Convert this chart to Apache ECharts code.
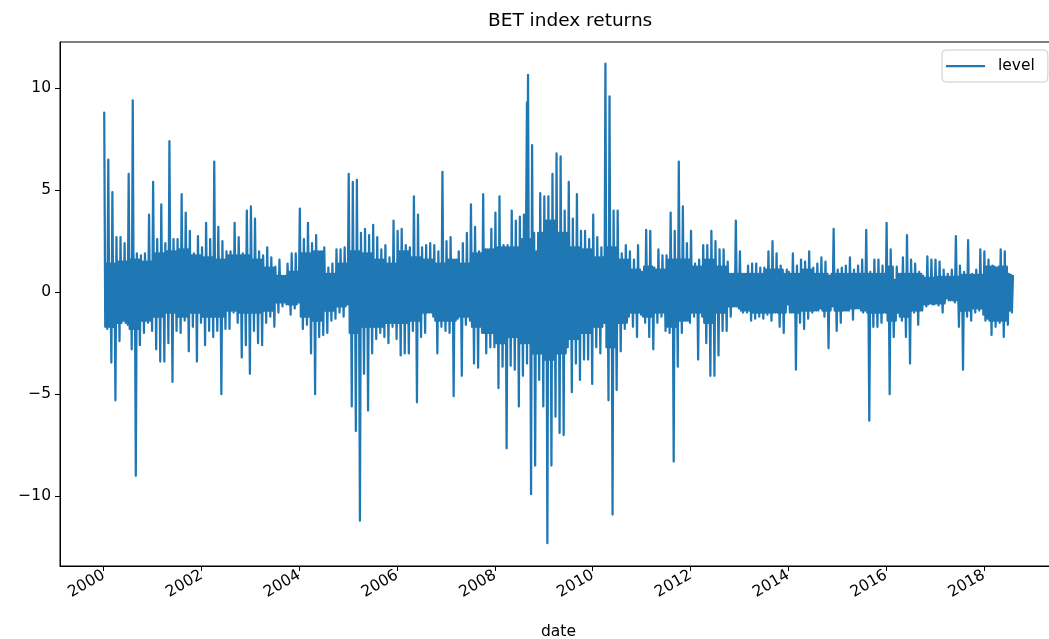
<!DOCTYPE html>
<html>
<head>
<meta charset="utf-8">
<script src="https://cdn.jsdelivr.net/npm/echarts@6/dist/echarts.min.js"></script>
<style>
html,body{margin:0;padding:0;background:#fff;}
#chart{width:1049px;height:639px;}
</style>
</head>
<body>
<div id="chart"></div>
<script>
const ret2000 = [8.8,-1.8, 6.5,-3.45, 4.9,-5.3, 2.7,-2.4, 2.7,-1.4, 2.4,-1.6, 5.8,-2.8, 9.4,-9.0, 1.9,-2.6, 1.8,-2.0, 1.9,-1.5, 3.8,-1.9];
const ret2001 = [5.4,-2.8, 2.6,-3.4, 4.3,-3.4, 2.4,-2.5, 7.4,-4.4, 2.6,-1.9, 2.6,-2.0, 4.8,-1.4, 3.9,-2.9, 3.0,-1.7, 1.9,-3.4, 2.75,-1.5];
const ret2002 = [2.2,-2.6, 3.4,-1.9, 2.6,-2.2, 6.4,-1.9, 3.2,-5.0, 2.5,-1.8, 2.0,-1.8, 2.0,-1.0, 3.4,-1.5, 2.7,-3.2, 1.9,-2.6, 4.0,-4.0];
const ret2003 = [4.2,-1.9, 3.6,-2.5, 2.0,-2.6, 1.8,-1.5, 2.2,-1.2, 1.7,-1.7, 1.25,-1.0, 1.6,-0.7, 0.8,-0.6, 1.4,-1.1, 1.9,-0.8, 1.9,-0.5];
const ret2004 = [4.1,-1.8, 2.6,-1.6, 3.4,-3.0, 2.4,-5.0, 2.8,-2.2, 2.0,-2.1, 2.2,-2.0, 1.2,-1.4, 1.4,-1.3, 2.1,-1.0, 2.1,-1.2, 2.2,-0.6];
const ret2005 = [5.8,-5.6, 5.4,-6.8, 5.5,-11.2, 2.9,-4.0, 3.1,-5.8, 2.8,-3.0, 3.3,-2.3, 2.7,-2.0, 2.1,-2.2, 2.3,-2.5, 1.7,-1.7, 3.5,-2.3];
const ret2006 = [3.0,-3.1, 3.1,-3.0, 2.3,-3.0, 2.2,-1.9, 4.7,-5.4, 3.8,-2.2, 2.2,-2.0, 2.3,-1.0, 2.4,-1.2, 2.3,-3.0, 2.0,-1.7, 5.9,-1.9];
const ret2007 = [2.5,-2.0, 2.7,-5.1, 1.6,-1.3, 2.0,-4.1, 2.4,-1.6, 2.9,-1.4, 4.3,-3.5, 3.2,-3.7, 2.0,-2.0, 4.8,-3.0, 2.1,-2.7, 3.1,-2.7];
const ret2008 = [3.9,-4.7, 4.7,-3.65, 2.3,-7.65, 2.3,-3.6, 4.0,-3.8, 3.5,-5.6, 3.7,-4.1, 3.8,-3.5, 10.65,-9.9, 7.2,-8.5, 2.0,-4.3, 4.85,-5.6];
const ret2009 = [4.7,-12.3, 4.7,-8.5, 5.8,-6.1, 6.8,-6.9, 6.65,-7.0, 4.0,-2.7, 5.4,-4.9, 3.6,-3.5, 4.8,-4.3, 3.0,-3.3, 3.0,-3.3, 2.6,-4.5];
const ret2010 = [3.8,-2.7, 2.7,-3.0, 2.2,-1.5, 11.2,-5.3, 9.6,-10.9, 4.0,-4.8, 4.0,-2.9, 1.9,-1.8, 2.3,-1.2, 2.0,-1.7, 1.6,-2.2, 2.3,-1.1];
const ret2011 = [1.0,-1.5, 3.05,-2.2, 3.0,-2.8, 1.2,-1.5, 2.1,-1.2, 1.8,-1.9, 1.8,-2.0, 3.9,-8.3, 3.0,-3.65, 6.4,-2.0, 4.2,-1.4, 2.4,-1.5];
const ret2012 = [3.0,-1.2, 1.4,-3.3, 1.6,-1.2, 2.3,-2.5, 2.3,-4.1, 3.0,-4.1, 2.5,-3.1, 2.1,-1.9, 2.1,-1.9, 1.5,-1.2, 0.9,-0.7, 3.5,-0.8];
const ret2013 = [2.0,-1.0, 0.9,-1.0, 1.3,-1.4, 1.4,-1.3, 1.4,-1.2, 1.2,-1.3, 1.2,-1.1, 2.0,-1.4, 2.5,-1.0, 1.9,-1.7, 1.3,-2.0, 0.9,-0.6];
const ret2014 = [1.0,-1.0, 1.9,-3.8, 1.3,-1.5, 1.6,-1.8, 1.5,-1.3, 2.0,-1.0, 1.2,-0.9, 1.4,-0.8, 1.7,-1.2, 1.5,-2.75, 0.8,-0.7, 3.1,-1.9];
const ret2015 = [1.1,-1.5, 1.2,-0.9, 1.3,-0.9, 1.7,-1.35, 1.1,-0.8, 1.3,-0.9, 1.6,-0.9, 3.05,-6.3, 1.0,-1.7, 1.6,-1.7, 1.6,-1.5, 1.3,-1.0];
const ret2016 = [3.4,-5.0, 2.1,-2.2, 0.6,-1.0, 0.9,-1.4, 1.7,-2.2, 2.8,-3.5, 1.6,-1.0, 1.4,-1.6, 1.0,-0.9, 0.8,-0.7, 1.75,-0.55, 1.6,-0.6];
const ret2017 = [1.6,-0.65, 1.5,-1.0, 1.1,-0.3, 0.9,-0.4, 1.1,-0.5, 2.75,-1.7, 1.3,-3.8, 1.0,-1.2, 2.55,-1.4, 0.9,-1.0, 1.1,-0.9, 2.1,-1.1];
const ret2018 = [2.0,-1.3, 1.6,-2.1, 1.3,-1.7, 1.2,-1.5, 2.1,-2.2, 2.0,-1.6, 0.9,-1.0, 0.8];

// edges of the dense core band, one high / low pair per quarter
const core2000 = [1.4,-1.7, 1.5,-1.5, 1.6,-1.8, 1.5,-1.4];
const core2001 = [1.9,-1.2, 2.0,-1.0, 2.1,-1.2, 1.8,-1.0];
const core2002 = [1.7,-1.2, 1.6,-1.2, 1.8,-0.9, 1.8,-1.0];
const core2003 = [1.6,-1.0, 1.2,-0.9, 0.8,-0.5, 1.0,-0.6];
const core2004 = [1.9,-1.2, 2.0,-1.4, 0.9,-0.9, 1.4,-0.7];
const core2005 = [2.0,-2.0, 1.9,-1.7, 1.6,-1.7, 1.4,-1.5];
const core2006 = [2.0,-1.5, 1.7,-1.4, 1.6,-1.0, 1.4,-1.4];
const core2007 = [1.6,-1.4, 1.4,-1.2, 1.9,-1.7, 2.1,-2.0];
const core2008 = [2.2,-2.5, 2.2,-2.2, 2.6,-2.5, 2.9,-3.0];
const core2009 = [3.5,-3.3, 2.9,-3.0, 2.2,-2.3, 2.1,-2.0];
const core2010 = [1.7,-1.7, 2.2,-2.7, 1.6,-1.5, 1.1,-1.0];
const core2011 = [1.25,-1.2, 1.1,-1.0, 1.6,-1.7, 1.6,-1.4];
const core2012 = [1.25,-1.0, 1.6,-1.5, 1.25,-1.0, 0.9,-0.7];
const core2013 = [0.9,-0.9, 0.9,-1.0, 1.1,-1.0, 1.1,-1.0];
const core2014 = [0.9,-1.0, 1.1,-0.9, 0.9,-0.9, 0.9,-0.9];
const core2015 = [0.9,-0.9, 0.9,-0.8, 0.9,-1.0, 0.9,-1.0];
const core2016 = [1.25,-1.4, 0.9,-1.2, 0.9,-0.9, 0.7,-0.6];
const core2017 = [0.75,-0.55, 0.75,-0.4, 0.85,-0.9, 0.85,-0.8];
const core2018 = [1.25,-1.4, 1.25,-1.4, 0.85,-0.9];

// isolated extra spike (date, value)
const extraDates = ['2008-08-28'];
const extraValues = [9.3];

const xTicks = [2000, 2002, 2004, 2006, 2008, 2010, 2012, 2014, 2016, 2018];
const yTicks = [-10, -5, 0, 5, 10];

const yearArrays = [ret2000, ret2001, ret2002, ret2003, ret2004, ret2005, ret2006, ret2007, ret2008, ret2009,
  ret2010, ret2011, ret2012, ret2013, ret2014, ret2015, ret2016, ret2017, ret2018];
const coreArrays = [core2000, core2001, core2002, core2003, core2004, core2005, core2006, core2007, core2008, core2009,
  core2010, core2011, core2012, core2013, core2014, core2015, core2016, core2017, core2018];

function decYear(s) {
  const d = new Date(s + 'T00:00:00Z');
  const y = d.getUTCFullYear();
  const start = Date.UTC(y, 0, 1), end = Date.UTC(y + 1, 0, 1);
  return y + (d.getTime() - start) / (end - start);
}

const points = [];
yearArrays.forEach(function (arr, yi) {
  const year = 2000 + yi;
  const core = coreArrays[yi];
  const months = Math.ceil(arr.length / 2);
  for (let m = 0; m < months; m++) {
    const hi = arr[2 * m], lo = arr[2 * m + 1];
    const q = Math.floor(m / 3);
    points.push([year + (m + 0.125) / 12, hi]);
    if (lo === undefined) continue;
    points.push([year + (m + 0.375) / 12, core[2 * q + 1]]);
    points.push([year + (m + 0.625) / 12, core[2 * q]]);
    points.push([year + (m + 0.875) / 12, lo]);
  }
});
extraDates.forEach(function (s, i) { points.push([decYear(s), extraValues[i]]); });
points.sort(function (a, b) { return a[0] - b[0]; });

const FONT = 'DejaVu Sans';
const chart = echarts.init(document.getElementById('chart'), null, {renderer: 'canvas'});
chart.setOption({
  animation: false,
  backgroundColor: '#ffffff',
  title: {
    text: 'BET index returns',
    left: 488, top: 12, padding: 0,
    textStyle: {fontFamily: FONT, fontSize: 18.5, fontWeight: 'normal', color: '#000'}
  },
  legend: {
    data: ['level'],
    left: 942, top: 50,
    padding: [8, 13, 8, 4],
    itemWidth: 39, itemHeight: 2.25,
    icon: 'rect',
    borderColor: '#cccccc', borderWidth: 1, borderRadius: 4,
    backgroundColor: 'rgba(255,255,255,0.8)',
    textStyle: {fontFamily: FONT, fontSize: 15.5, color: '#000', padding: [0, 0, 0, 8]}
  },
  grid: {
    left: 60, top: 42, width: 997, height: 524,
    outerBoundsMode: 'none',
    containLabel: false,
    show: true, borderColor: '#000', borderWidth: 1, backgroundColor: 'transparent'
  },
  xAxis: {
    type: 'value',
    min: 1999.106, max: 2019.495,
    name: 'date', nameLocation: 'middle', nameGap: 58,
    nameTextStyle: {fontFamily: FONT, fontSize: 15.5, color: '#000'},
    axisLine: {show: true, onZero: false, lineStyle: {color: '#000', width: 1}},
    axisTick: {show: true, customValues: xTicks, length: 5, lineStyle: {color: '#000', width: 1}},
    axisLabel: {
      customValues: xTicks, rotate: 30, margin: 8,
      fontFamily: FONT, fontSize: 15.5, color: '#000',
      formatter: function (v) { return String(Math.round(v)); }
    },
    splitLine: {show: false}
  },
  yAxis: {
    type: 'value',
    min: -13.42, max: 12.26,
    axisLine: {show: true, onZero: false, lineStyle: {color: '#000', width: 1}},
    axisTick: {show: true, customValues: yTicks, length: 5, lineStyle: {color: '#000', width: 1}},
    axisLabel: {
      customValues: yTicks, margin: 9,
      fontFamily: FONT, fontSize: 15.5, color: '#000',
      formatter: function (v) { return v < 0 ? '\u2212' + Math.abs(v) : String(v); }
    },
    splitLine: {show: false}
  },
  series: [{
    name: 'level',
    type: 'line',
    data: points,
    showSymbol: false,
    symbol: 'none',
    sampling: null,
    lineStyle: {color: '#1f77b4', width: 2.25, join: 'round', cap: 'round'},
    itemStyle: {color: '#1f77b4'},
    emphasis: {disabled: true}
  }]
});
</script>
</body>
</html>
